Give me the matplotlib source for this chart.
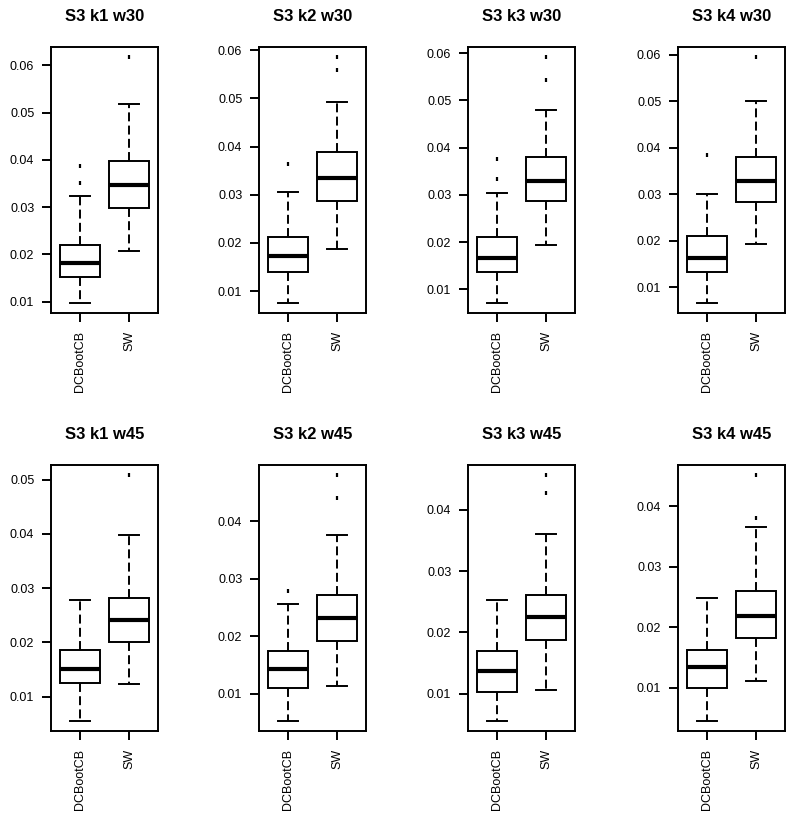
import matplotlib
matplotlib.use("Agg")
import matplotlib.pyplot as plt
from matplotlib.ticker import MultipleLocator, FormatStrFormatter

plt.rcParams['font.family'] = ['Liberation Sans', 'DejaVu Sans']

titles = ["S3 k1 w30", "S3 k2 w30", "S3 k3 w30", "S3 k4 w30",
          "S3 k1 w45", "S3 k2 w45", "S3 k3 w45", "S3 k4 w45"]
methods = ["DCBootCB", "SW"]

# DCBootCB statistics per panel
dc_whislo = [0.0097, 0.0075, 0.0071, 0.0066, 0.0055, 0.0052, 0.0055, 0.0045]
dc_q1     = [0.0153, 0.0139, 0.0137, 0.0134, 0.0126, 0.0110, 0.0103, 0.0100]
dc_med    = [0.0182, 0.0172, 0.0167, 0.0164, 0.0152, 0.0143, 0.0137, 0.0134]
dc_q3     = [0.0221, 0.0212, 0.0211, 0.0211, 0.0187, 0.0174, 0.0169, 0.0163]
dc_whishi = [0.0324, 0.0305, 0.0303, 0.0301, 0.0279, 0.0256, 0.0253, 0.0248]
dc_fliers = [[0.0351, 0.0387], [0.0363], [0.0333, 0.0375], [0.0384],
             [], [0.0278], [], []]

# SW statistics per panel
sw_whislo = [0.0208, 0.0187, 0.0193, 0.0194, 0.0123, 0.0113, 0.0106, 0.0112]
sw_q1     = [0.0299, 0.0287, 0.0288, 0.0283, 0.0200, 0.0192, 0.0188, 0.0182]
sw_med    = [0.0346, 0.0334, 0.0329, 0.0328, 0.0241, 0.0231, 0.0225, 0.0218]
sw_q3     = [0.0398, 0.0388, 0.0381, 0.0381, 0.0282, 0.0271, 0.0261, 0.0260]
sw_whishi = [0.0519, 0.0493, 0.0480, 0.0500, 0.0398, 0.0377, 0.0360, 0.0366]
sw_fliers = [[0.0618], [0.0559, 0.0586], [0.0543, 0.0592], [0.0596],
             [0.0509], [0.0441, 0.0481], [0.0428, 0.0457], [0.0381, 0.0452]]

W, H = 796, 822
fig = plt.figure(figsize=(W / 100, H / 100), dpi=100)

lefts = [51, 259, 468, 678]
tops = [47, 465]
aw, ah = 107, 266
lw = 1.4

for i in range(8):
    r, c = divmod(i, 4)
    ax = fig.add_axes([lefts[c] / W, 1 - (tops[r] + ah) / H, aw / W, ah / H])
    stats = [
        dict(label=methods[0], whislo=dc_whislo[i], q1=dc_q1[i], med=dc_med[i],
             q3=dc_q3[i], whishi=dc_whishi[i], fliers=dc_fliers[i]),
        dict(label=methods[1], whislo=sw_whislo[i], q1=sw_q1[i], med=sw_med[i],
             q3=sw_q3[i], whishi=sw_whishi[i], fliers=sw_fliers[i]),
    ]
    ax.bxp(stats, positions=[1, 2], widths=0.8, capwidths=0.4,
           patch_artist=True, manage_ticks=False,
           boxprops=dict(facecolor='white', edgecolor='black', linewidth=lw),
           medianprops=dict(color='black', linewidth=3.0, solid_capstyle='butt'),
           whiskerprops=dict(color='black', linewidth=lw, linestyle=(0, (4.6, 2.2))),
           capprops=dict(color='black', linewidth=lw),
           flierprops=dict(marker='|', markersize=3, markeredgewidth=1.6,
                           markeredgecolor='black', linestyle='none'))
    lo = min([dc_whislo[i], sw_whislo[i]] + dc_fliers[i] + sw_fliers[i])
    hi = max([dc_whishi[i], sw_whishi[i]] + dc_fliers[i] + sw_fliers[i])
    pad = 0.04 * (hi - lo)
    ax.set_ylim(lo - pad, hi + pad)
    ax.set_xlim(0.42, 2.58)
    ax.set_xticks([1, 2])
    ax.set_xticklabels(methods, rotation=90, fontsize=9)
    ax.yaxis.set_major_locator(MultipleLocator(0.01))
    ax.yaxis.set_major_formatter(FormatStrFormatter('%.2f'))
    ax.tick_params(axis='y', labelsize=9, length=6.5, width=lw, pad=5.5, direction='out')
    ax.tick_params(axis='x', length=6.5, width=lw, pad=6.5, direction='out')
    for s in ax.spines.values():
        s.set_linewidth(lw)
    ax.set_title(titles[i], fontsize=12, fontweight='bold', pad=19)

fig.savefig("out.png", dpi=100, facecolor='white')
